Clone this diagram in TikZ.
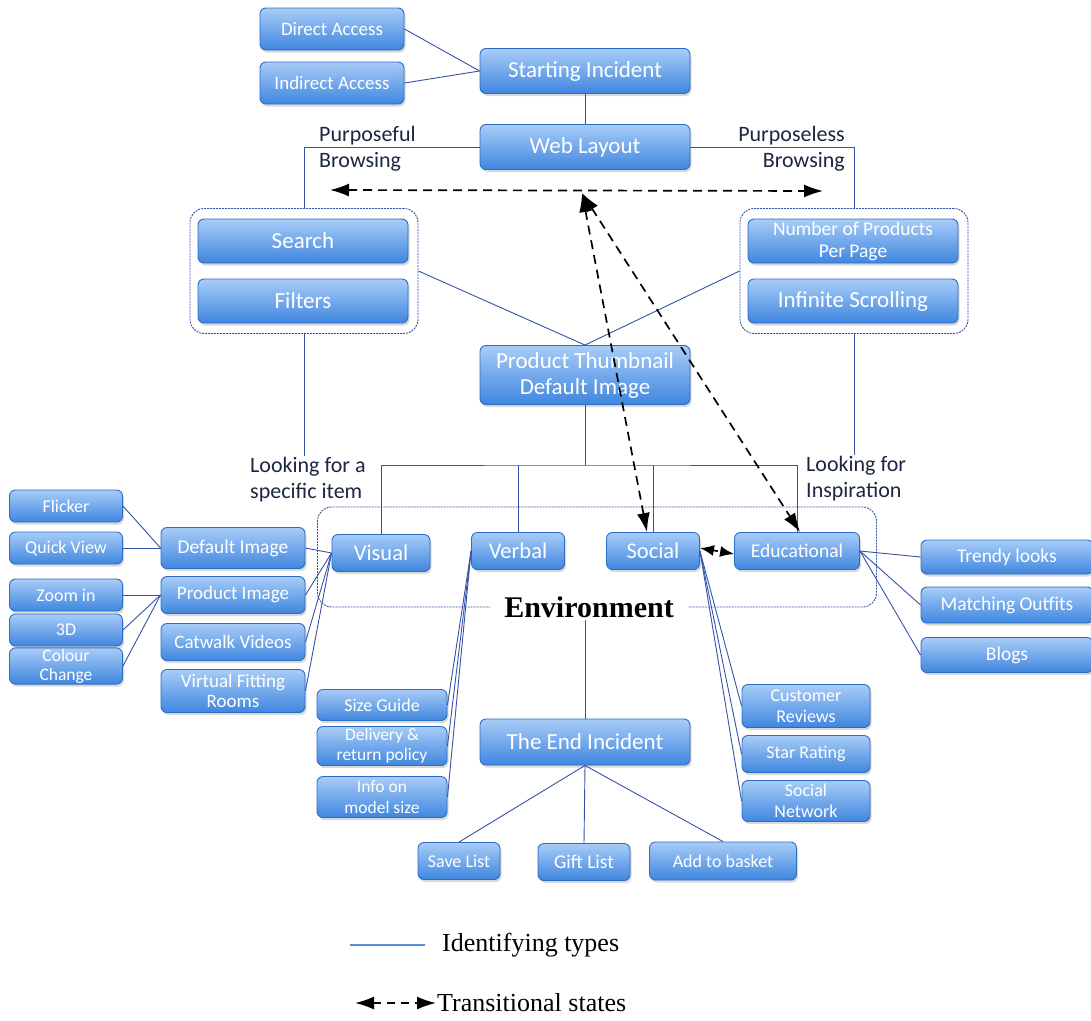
\documentclass[tikz,border=0pt]{standalone}
\usepackage{fontspec}
\setmainfont{Carlito}
\newfontfamily\timesfont{Liberation Serif}
\usetikzlibrary{arrows.meta,positioning,calc,shadows}

\definecolor{boxtop}{HTML}{A8CCF7}
\definecolor{boxbot}{HTML}{3F86DF}
\definecolor{boxline}{HTML}{2D6CC6}
\definecolor{linkblue}{HTML}{3552A8}
\definecolor{legendblue}{HTML}{5B8BD0}
\definecolor{labelnavy}{HTML}{1C2640}
\newcommand{\fsz}[2]{\fontsize{#1}{#2}\selectfont}

\begin{document}
\begin{tikzpicture}[x=1pt,y=-1pt,box/.style={rectangle,rounded corners=6pt,draw=boxline,line width=0.9pt,top color=boxtop,bottom color=boxbot,text=white,align=center,inner sep=1pt,drop shadow={shadow xshift=1.5pt,shadow yshift=-2.5pt,opacity=0.3}},bigbox/.style={box,minimum width=210pt,minimum height=45pt,font=\fsz{23}{26}},midbox/.style={box,minimum height=37pt,font=\fsz{22.5}{25}},smallbox/.style={box,font=\fsz{18}{20}},group/.style={draw=linkblue,dash pattern=on 2pt off 1pt,line width=0.9pt,rounded corners=14pt},link/.style={draw=linkblue,line width=0.9pt},trans/.style={black,line width=1.7pt,dash pattern=on 9pt off 6pt,{Latex[length=19pt,width=13pt]}-{Latex[length=19pt,width=13pt]}},caption/.style={text=labelnavy,align=left,inner sep=1pt,font=\fsz{22}{26}}]
\useasboundingbox (0,0) rectangle (1091,1020);
% top of the tree
\node[box,minimum width=144pt,minimum height=42pt,font=\fsz{19}{21}] (direct) at (332,29) {Direct Access};
\node[box,minimum width=144pt,minimum height=42pt,font=\fsz{19}{21}] (indirect) at (332,83) {Indirect Access};
\node[bigbox] (start) at (585,71) {Starting Incident};
\node[bigbox] (web) at (585,147) {Web Layout};
\node[caption,anchor=west] (purposeful) at (318,149) {Purposeful\\Browsing};
\node[caption,anchor=east,align=right] (purposeless) at (846,149) {Purposeless\\Browsing};
% browsing groups
\node[group,minimum width=228pt,minimum height=125pt] (lgrp) at (304,271) {};
\node[group,minimum width=228pt,minimum height=125pt] (rgrp) at (854,271) {};
\node[bigbox,minimum height=44pt] (search) at (303,241) {Search};
\node[bigbox,minimum height=44pt] (filters) at (303,301) {Filters};
\node[bigbox,minimum height=44pt,font=\fsz{19.5}{22}] (nprod) at (853,241) {Number of Products\\Per Page};
\node[bigbox,minimum height=44pt] (scroll) at (853,301) {Infinite Scrolling};
\node[bigbox,minimum height=59pt] (thumb) at (585,375) {Product Thumbnail\\Default Image};
\node[caption,anchor=west] (lookspec) at (249,480) {Looking for a\\specific item};
\node[caption,anchor=west] (lookinsp) at (805,479) {Looking for\\Inspiration};
% environment
\node[group,minimum width=559pt,minimum height=100pt] (envgrp) at (597,557) {};
\node[fill=white,inner xsep=14pt,inner ysep=2pt,font=\timesfont\bfseries\fsz{30}{32}] (envtxt) at (589,607) {Environment};
\node[midbox,minimum width=98pt] (visual) at (381,553) {Visual};
\node[midbox,minimum width=93pt] (verbal) at (518,551) {Verbal};
\node[midbox,minimum width=93pt] (social) at (653,551) {Social};
\node[midbox,minimum width=125pt,font=\fsz{19.5}{22}] (edu) at (797,551) {Educational};
% visual branch
\node[box,minimum width=144pt,minimum height=41pt,font=\fsz{19.5}{21}] (defimg) at (233,548) {Default Image};
\node[box,minimum width=144pt,minimum height=37pt,font=\fsz{19}{21}] (prodimg) at (233,595) {Product Image};
\node[box,minimum width=144pt,minimum height=37pt,font=\fsz{19}{21}] (catwalk) at (233,642) {Catwalk Videos};
\node[box,minimum width=144pt,minimum height=43pt,font=\fsz{19}{20}] (fitting) at (233,691) {Virtual Fitting\\Rooms};
\node[smallbox,minimum width=113pt,minimum height=32pt] (flicker) at (66,506) {Flicker};
\node[smallbox,minimum width=113pt,minimum height=32pt] (quick) at (66,548) {Quick View};
\node[smallbox,minimum width=113pt,minimum height=32pt] (zoomin) at (66,595) {Zoom in};
\node[smallbox,minimum width=113pt,minimum height=32pt] (threed) at (66,630) {3D};
\node[smallbox,minimum width=113pt,minimum height=36pt,font=\fsz{17.5}{19}] (colour) at (66,666) {Colour\\Change};
% verbal branch
\node[smallbox,minimum width=130pt,minimum height=31pt] (sizeg) at (382,705) {Size Guide};
\node[smallbox,minimum width=130pt,minimum height=39pt,font=\fsz{17.5}{19.5}] (delivery) at (382,746) {Delivery \&\\return policy};
\node[smallbox,minimum width=130pt,minimum height=41pt,font=\fsz{17.5}{20.5}] (modelsz) at (382,797) {Info on\\model size};
% social branch
\node[smallbox,minimum width=128pt,minimum height=43pt,font=\fsz{18}{21}] (reviews) at (806,706) {Customer\\Reviews};
\node[smallbox,minimum width=128pt,minimum height=37pt] (rating) at (806,754) {Star Rating};
\node[smallbox,minimum width=128pt,minimum height=41pt,font=\fsz{18}{20.5}] (network) at (806,801) {Social\\Network};
% educational branch
\node[box,minimum width=172pt,minimum height=34pt,font=\fsz{19.5}{22}] (trendy) at (1007,557) {Trendy looks};
\node[box,minimum width=172pt,minimum height=36pt,font=\fsz{19.5}{22}] (matching) at (1007,605) {Matching Outfits};
\node[box,minimum width=172pt,minimum height=35pt,font=\fsz{19.5}{22}] (blogs) at (1007,655) {Blogs};
% end of the tree
\node[bigbox,minimum height=46pt] (endinc) at (585,742) {The End Incident};
\node[smallbox,minimum width=82pt,minimum height=37pt] (save) at (459,861) {Save List};
\node[smallbox,minimum width=92pt,minimum height=37pt,font=\fsz{19.5}{21}] (gift) at (584,862) {Gift List};
\node[smallbox,minimum width=147pt,minimum height=38pt] (basket) at (723,861) {Add to basket};
% identifying types
\draw[link] (direct.east) -- (start.west);
\draw[link] (indirect.east) -- (start.west);
\draw[link] (start.south) -- (web.north);
\draw[link] (web.west) -| (lgrp.north);
\draw[link] (web.east) -| (rgrp.north);
\draw[link] (lgrp.south) -- (lgrp.south |- lookspec.north);
\draw[link] (rgrp.south) -- (rgrp.south |- lookinsp.north);
\draw[link] (lgrp.east) -- (thumb.north);
\draw[link] (rgrp.west) -- (thumb.north);
\coordinate (bus) at (585,465);
\draw[link] (thumb.south) -- (bus);
\draw[link] (visual.north) |- (bus) -| (edu.north);
\draw[link] (verbal.north) -- (verbal.north |- bus);
\draw[link] (social.north) -- (social.north |- bus);
\foreach \n in {defimg,prodimg,catwalk,fitting}
  \draw[link] (visual.west) -- (\n.east);
\foreach \n in {flicker,quick}
  \draw[link] (\n.east) -- (defimg.west);
\foreach \n in {zoomin,threed,colour}
  \draw[link] (\n.east) -- (prodimg.west);
\foreach \n in {sizeg,delivery,modelsz}
  \draw[link] (verbal.west) -- (\n.east);
\foreach \n in {reviews,rating,network}
  \draw[link] (social.east) -- (\n.west);
\foreach \n in {trendy,matching,blogs}
  \draw[link] (edu.east) -- (\n.west);
\draw[link] (envtxt.south -| endinc.north) -- (endinc.north);
\foreach \n in {save,gift,basket}
  \draw[link] (endinc.south) -- (\n.north);
% transitional states
\coordinate (hub) at (582,193);
\coordinate (tleft) at (330,190);
\coordinate (tright) at (823,191);
\draw[trans] (tleft) -- (tright);
\draw[trans] (hub) -- ([xshift=-6pt]social.north);
\draw[trans] (hub) -- ([xshift=3pt]edu.north);
\draw[trans,dash pattern=on 5pt off 4pt,{Latex[length=14pt,width=11pt]}-{Latex[length=14pt,width=11pt]}] ([yshift=3pt]social.east) -- ([yshift=-3pt]edu.west);
% legend
\coordinate (ida) at (350,945);
\coordinate (idb) at (425,945);
\draw[legendblue,line width=1.2pt] (ida) -- (idb);
\node[anchor=west,inner sep=1pt,font=\timesfont\fsz{26}{28}] (idtxt) at (441,945) {Identifying types};
\coordinate (tra) at (355,1003);
\coordinate (trb) at (436,1003);
\draw[trans,dash pattern=on 8pt off 6pt] (tra) -- (trb);
\node[anchor=west,inner sep=1pt,font=\timesfont\fsz{26}{28}] (trtxt) at (436,1003) {Transitional states};
\end{tikzpicture}
\end{document}
